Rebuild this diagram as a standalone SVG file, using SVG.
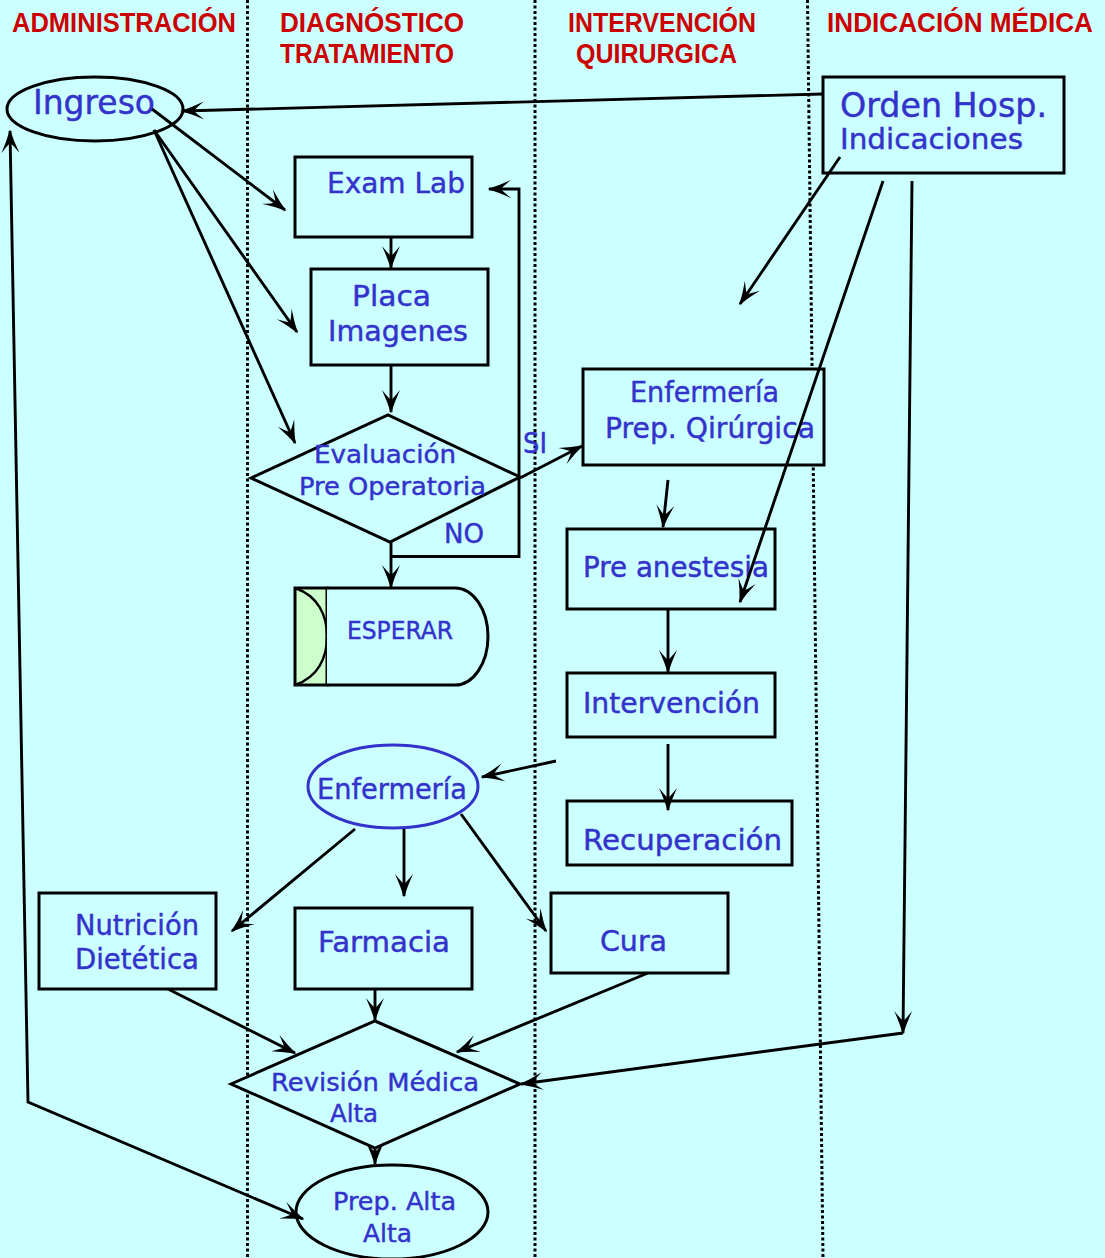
<svg xmlns="http://www.w3.org/2000/svg" width="1105" height="1258" viewBox="0 0 1105 1258">
<defs>
<style>
.hdr{font-family:"Liberation Sans",Arial,sans-serif;font-weight:bold;font-size:27.5px;fill:#CC0000}
.t{font-family:"DejaVu Sans","Liberation Sans",sans-serif;fill:#3333CC;font-size:28px;stroke:#3333CC;stroke-width:0.45}
.box{fill:#CCFFFF;stroke:#000;stroke-width:3}
.lane{stroke:#000;stroke-width:3;stroke-dasharray:3 2.5;fill:none}
.c{fill:none;stroke:#000;stroke-width:2.9;marker-end:url(#ah)}
</style>
<marker id="ah" viewBox="-26 -11 28 22" refX="0" refY="0" markerWidth="28" markerHeight="22" markerUnits="userSpaceOnUse" orient="auto-start-reverse">
<path d="M1.5,0 Q-10,-3.5 -22,-9 Q-14,-2.5 -12,0 Q-14,2.5 -22,9 Q-10,3.5 1.5,0 Z" fill="#000"/>
</marker>
</defs>
<rect width="1105" height="1258" fill="#CCFFFF"/>
<g id="lanes">
<line class="lane" x1="247.5" y1="0" x2="247.5" y2="1258"/>
<line class="lane" x1="535" y1="0" x2="535" y2="1258"/>
<line class="lane" x1="807.5" y1="0" x2="823" y2="1258"/>
</g>
<g id="headers">
<text class="hdr" x="12" y="32" textLength="224" lengthAdjust="spacingAndGlyphs">ADMINISTRACIÓN</text>
<text class="hdr" x="280" y="32" textLength="184" lengthAdjust="spacingAndGlyphs">DIAGNÓSTICO</text>
<text class="hdr" x="280" y="63" textLength="174" lengthAdjust="spacingAndGlyphs">TRATAMIENTO</text>
<text class="hdr" x="568" y="32" textLength="188" lengthAdjust="spacingAndGlyphs">INTERVENCIÓN</text>
<text class="hdr" x="576" y="63" textLength="161" lengthAdjust="spacingAndGlyphs">QUIRURGICA</text>
<text class="hdr" x="827" y="32" textLength="266" lengthAdjust="spacingAndGlyphs">INDICACIÓN MÉDICA</text>
</g>
<g id="ingreso">
<ellipse class="box" cx="95" cy="109" rx="88" ry="32"/>
<text class="t" x="33" y="114" style="font-size:34px" textLength="122" lengthAdjust="spacingAndGlyphs">Ingreso</text>
</g>
<g id="orden">
<rect class="box" x="823" y="77" width="241" height="96"/>
<text class="t" x="840" y="117" style="font-size:33px" textLength="207" lengthAdjust="spacingAndGlyphs">Orden Hosp.</text>
<text class="t" x="840" y="149" textLength="183" lengthAdjust="spacingAndGlyphs">Indicaciones</text>
</g>
<g id="examlab">
<rect class="box" x="295" y="157" width="177" height="80"/>
<text class="t" x="327" y="193" textLength="138" lengthAdjust="spacingAndGlyphs">Exam Lab</text>
</g>
<g id="placa">
<rect class="box" x="311" y="269" width="177" height="96"/>
<text class="t" x="352" y="306" textLength="79" lengthAdjust="spacingAndGlyphs">Placa</text>
<text class="t" x="328" y="341" textLength="140" lengthAdjust="spacingAndGlyphs">Imagenes</text>
</g>
<g id="evaluacion">
<polygon class="box" points="251,478 388,415 520,477 390,542"/>
<text class="t" x="314" y="463" style="font-size:24px" textLength="142" lengthAdjust="spacingAndGlyphs">Evaluación</text>
<text class="t" x="299" y="495" style="font-size:24px" textLength="187" lengthAdjust="spacingAndGlyphs">Pre Operatoria</text>
</g>
<g id="esperar">
<rect x="295" y="588" width="32" height="97" fill="#CCFFCC" stroke="#000" stroke-width="3"/>
<path d="M295,588 C318,596 327,615 327,636.5 C327,658 318,677 295,685" fill="none" stroke="#000" stroke-width="2.4"/>
<path class="box" d="M327,588 H455 A33,48.5 0 0 1 455,685 H327"/>
<text class="t" x="347" y="639" style="font-size:25px" textLength="106" lengthAdjust="spacingAndGlyphs">ESPERAR</text>
</g>
<g id="enfprep">
<rect class="box" x="583" y="369" width="241" height="96"/>
<text class="t" x="630" y="402" textLength="149" lengthAdjust="spacingAndGlyphs">Enfermería</text>
<text class="t" x="605" y="438" textLength="210" lengthAdjust="spacingAndGlyphs">Prep. Qirúrgica</text>
</g>
<g id="preanestesia">
<rect class="box" x="567" y="529" width="208" height="80"/>
<text class="t" x="583" y="577" textLength="186" lengthAdjust="spacingAndGlyphs">Pre anestesia</text>
</g>
<g id="intervencion">
<rect class="box" x="567" y="673" width="208" height="64"/>
<text class="t" x="583" y="713" textLength="177" lengthAdjust="spacingAndGlyphs">Intervención</text>
</g>
<g id="recuperacion">
<rect class="box" x="567" y="801" width="225" height="64"/>
<text class="t" x="583" y="850" textLength="199" lengthAdjust="spacingAndGlyphs">Recuperación</text>
</g>
<g id="enfermeria">
<ellipse cx="393" cy="786.5" rx="85" ry="41.5" fill="#CCFFFF" stroke="#3333CC" stroke-width="3"/>
<text class="t" x="317" y="799" textLength="150" lengthAdjust="spacingAndGlyphs">Enfermería</text>
</g>
<g id="nutricion">
<rect class="box" x="39" y="893" width="177" height="96"/>
<text class="t" x="75" y="935" textLength="124" lengthAdjust="spacingAndGlyphs">Nutrición</text>
<text class="t" x="75" y="969" textLength="124" lengthAdjust="spacingAndGlyphs">Dietética</text>
</g>
<g id="farmacia">
<rect class="box" x="295" y="908" width="177" height="81"/>
<text class="t" x="318" y="952" textLength="132" lengthAdjust="spacingAndGlyphs">Farmacia</text>
</g>
<g id="cura">
<rect class="box" x="551" y="893" width="177" height="80"/>
<text class="t" x="600" y="951" textLength="67" lengthAdjust="spacingAndGlyphs">Cura</text>
</g>
<g id="revision">
<polygon class="box" points="231,1084 375,1021 520,1084 375,1148"/>
<text class="t" x="271" y="1091" style="font-size:24px" textLength="208" lengthAdjust="spacingAndGlyphs">Revisión Médica</text>
<text class="t" x="330" y="1122" style="font-size:24px" textLength="48" lengthAdjust="spacingAndGlyphs">Alta</text>
</g>
<g id="prepalta">
<ellipse class="box" cx="392" cy="1212" rx="96" ry="47"/>
<text class="t" x="333" y="1210" style="font-size:25px" textLength="123" lengthAdjust="spacingAndGlyphs">Prep. Alta</text>
<text class="t" x="363" y="1242" style="font-size:25px" textLength="49" lengthAdjust="spacingAndGlyphs">Alta</text>
</g>
<g id="connectors">
<path class="c" d="M823,94 L182,111"/>
<path class="c" d="M152,109 L285,210"/>
<path class="c" d="M154,130 L297,332"/>
<path class="c" d="M154,130 L295,443"/>
<path class="c" d="M391,237 L391,268"/>
<path class="c" d="M391,365 L391,412"/>
<path class="c" d="M520,478 L582,446"/>
<path class="c" d="M391,556.5 H519 V189 H489"/>
<path class="c" d="M391,542 V587"/>
<path class="c" d="M668,480 L663,527"/>
<path class="c" d="M668,609 V672"/>
<path class="c" d="M668,744 V810"/>
<path class="c" d="M556,761 L482,777"/>
<path class="c" d="M355,829 L232,931"/>
<path class="c" d="M404,829 V896"/>
<path class="c" d="M461,814 L546,931"/>
<path class="c" d="M168,989 L295,1053"/>
<path class="c" d="M375,989 V1020"/>
<path class="c" d="M648,973 L457,1052"/>
<path class="c" d="M912,181 L903,1033"/>
<path class="c" d="M903,1033 L521,1084"/>
<path class="c" d="M840,157 L740,304"/>
<path class="c" d="M883,181 L740,602"/>
<path class="c" d="M375,1147 V1164"/>
<path class="c" d="M10,131 L28,1102 L303,1219" style="marker-start:url(#ah)"/>
<text class="t" x="523" y="453" style="font-size:29px" textLength="24" lengthAdjust="spacingAndGlyphs">SI</text>
<text class="t" x="444" y="543" style="font-size:26px" textLength="40" lengthAdjust="spacingAndGlyphs">NO</text>
</g>
</svg>
